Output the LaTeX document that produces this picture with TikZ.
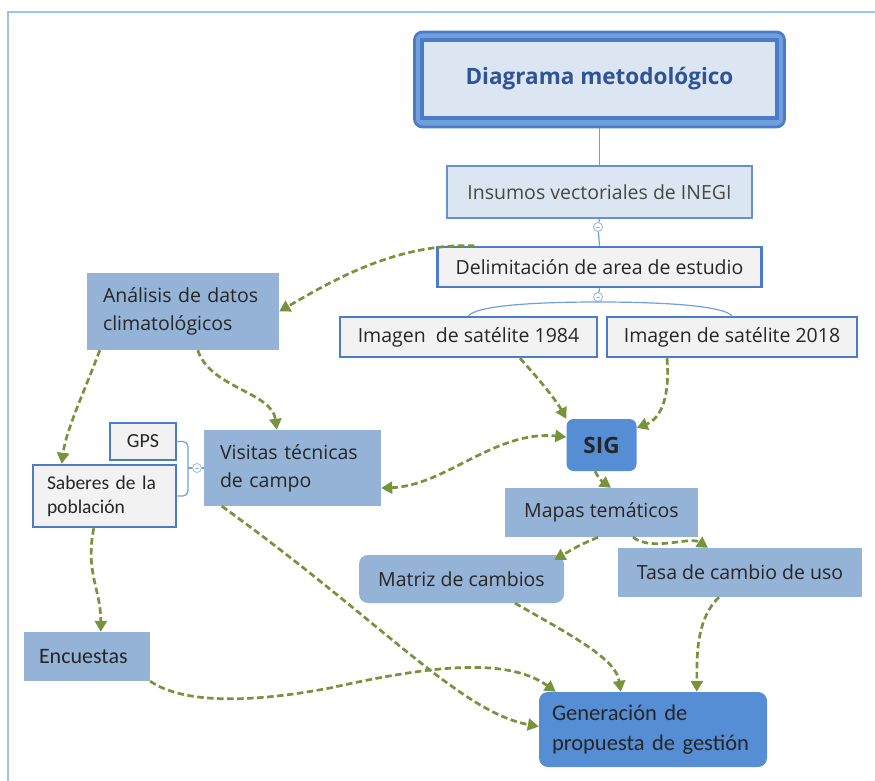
\documentclass[tikz,border=0pt]{standalone}
\usepackage{fontspec}
\setmainfont{Open Sans}
\newfontfamily\calib{Carlito}
\usetikzlibrary{arrows.meta}
\definecolor{lb}{HTML}{95B3D7}
\definecolor{db}{HTML}{558ED5}
\definecolor{gr}{HTML}{F2F2F2}
\definecolor{bd}{HTML}{4A7CC9}
\definecolor{pale}{HTML}{DCE6F2}
\definecolor{grn}{HTML}{77933C}
\definecolor{thin}{HTML}{6FA0DC}
\definecolor{framec}{HTML}{9DC3E6}
\definecolor{txt}{HTML}{262626}
\definecolor{ttl}{HTML}{2F5496}
\tikzset{
  base/.style={inner sep=0pt, font=\fontsize{19.5}{28}\selectfont, text=txt},
  sz/.style 2 args={minimum width=#1pt, minimum height=#2pt},
  lft/.style 2 args={text width=#1pt, inner xsep=#2pt, align=left},
  lbox/.style={base, fill=lb},
  gbox/.style={base, fill=gr, draw=bd, line width=2.5pt},
  dbox/.style={base, fill=db, rounded corners=7pt},
  mbox/.style={base, fill=lb, rounded corners=9pt},
  gline/.style={draw=grn, line width=2.7pt, dash pattern=on 6.5pt off 3.5pt},
  garrow/.style={gline, -{Triangle[length=11pt,width=12pt]}},
  thinline/.style={draw=thin, line width=1.2pt},
  coll/.style={circle, draw=thin!70, line width=0.9pt, fill=white, minimum size=9pt, inner sep=0pt,
     path picture={\draw[thin, line width=0.6pt] ([xshift=-2pt]path picture bounding box.center) -- ([xshift=2pt]path picture bounding box.center);}}
}
\begin{document}
\begin{tikzpicture}[x=1pt,y=-1pt]
\useasboundingbox (0,0) rectangle (875,781);
% frame
\draw[framec, line width=1.5pt] (875,12) -- (8,12) -- (8,781);

% title
\node[base, sz={370}{95}, fill=thin, draw=bd, line width=2.8pt, rounded corners=8pt] (tout) at (599.5,79.5) {};
\node[base, sz={355}{78}, fill=pale, draw=bd, line width=3.5pt, text=ttl,
      font=\fontsize{22.5}{26}\selectfont\bfseries] (title) at (599.5,79) {Diagrama metodológico};

\node[base, sz={305}{52}, fill=pale, draw=bd!85, line width=2pt, text=txt!85] (ins) at (599.5,192) {Insumos vectoriales de INEGI};
\node[gbox, sz={324}{40}] (del) at (599.5,267) {Delimitación de area de estudio};
\node[gbox, sz={257}{40}] (im84) at (468.5,337) {Imagen\ \ de satélite 1984};
\node[gbox, sz={250}{40}] (im18) at (732,337) {Imagen de satélite 2018};

\node[lbox, sz={192}{77}, lft={160}{16}] (ana) at (183,311.5) {Análisis de datos\\climatológicos};
\node[dbox, sz={70}{52}, font=\fontsize{22.5}{26}\selectfont\bfseries] (sig) at (601.5,445) {SIG};
\node[lbox, sz={177}{76}, lft={145}{16}] (vis) at (292.5,468) {Visitas técnicas\\de campo};
\node[gbox, sz={66}{37}, font=\calib\fontsize{20}{24}\selectfont] (gps) at (143,441.5) {GPS};
\node[gbox, sz={143}{62}, lft={115}{14}, font=\calib\fontsize{19.5}{24}\selectfont] (sab) at (104.5,496) {Saberes de la\\población};

\node[lbox, sz={193}{49}] (map) at (601.5,512.5) {Mapas temáticos};
\node[mbox, sz={205}{48}] (mat) at (461.5,579) {Matriz de cambios};
\node[lbox, sz={244}{49}] (tasa) at (740,572.5) {Tasa de cambio de uso};
\node[lbox, sz={126}{49}, lft={96}{15}, font=\calib\fontsize{22}{26}\selectfont] (enc) at (87,656.5) {Encuestas};
\node[dbox, sz={228}{75}, lft={202}{13}, font=\calib\fontsize{22.5}{30}\selectfont, rounded corners=9pt] (gen) at (653,729.5) {Generación de\\propuesta de gestión};

% blue tree connectors
\node[coll] (c1) at (598,227) {};
\node[coll] (c2) at (598,297) {};
\draw[thinline] (tout.south) -- (ins.north);
\draw[thinline] (ins.south) -- (c1);
\draw[thinline] (c1) -- (del.north);
\draw[thinline] (del.south) -- (c2);
\draw[thinline] (im84.north) .. controls (478,305) and (540,302) .. (598,302)
      .. controls (656,302) and (722,305) .. (im18.north);
\node[coll] (c3) at (197,468) {};
\draw[thinline, rounded corners=5pt] (gps.east) -- (188,441.5) -- (188,496) -- (sab.east);
\draw[thinline] (188,468) -- (c3);
\draw[thinline] (c3) -- (vis.west);

% green arrows
\draw[garrow] ([xshift=38pt]del.north west) .. controls (395,243) and (330,282) .. (ana.east);
\draw[garrow] ([xshift=13pt]ana.south west) .. controls (85,390) and (66,430) .. ([xshift=30pt]sab.north west);
\draw[garrow] ([xshift=111pt]ana.south west) .. controls (210,388) and (272,392) .. ([xshift=73pt]vis.north west);
\draw[garrow] ([xshift=51.5pt]im84.south) .. controls (538,378) and (556,400) .. (sig.north west);
\draw[garrow] ([xshift=-65pt]im18.south) .. controls (670,395) and (662,418) .. ([yshift=17pt]sig.east);
\draw[gline, {Triangle[length=11pt,width=12pt]}-{Triangle[length=11pt,width=12pt]}]
      ([yshift=-20pt]vis.east) .. controls (445,486) and (495,430) .. ([yshift=8pt]sig.west);
\draw[garrow] ([xshift=-6.5pt]sig.south) .. controls (600,480) .. ([xshift=9.5pt]map.north);
\draw[garrow] ([xshift=-3.5pt]map.south) .. controls (580,545) .. ([xshift=-10pt,yshift=-5pt]mat.north east);
\draw[garrow] ([xshift=31.5pt]map.south) .. controls (652,552) and (690,536) .. ([xshift=-32pt]tasa.north);
\draw[garrow] ([xshift=62pt]sab.south west) .. controls (85,572) and (101,590) .. ([xshift=77pt]enc.north west);
\draw[garrow] (enc.south east) .. controls (185,705) and (255,702) .. (330,688)
      .. controls (420,668) and (505,655) .. ([xshift=17pt]gen.north west);
\draw[garrow] ([xshift=18pt]vis.south west) .. controls (380,620) and (460,712) .. ([yshift=3pt]gen.west);
\draw[garrow] ([xshift=53.5pt]mat.south) .. controls (580,640) and (616,660) .. ([xshift=82pt]gen.north west);
\draw[garrow] ([xshift=-21pt]tasa.south) .. controls (695,620) and (697,660) .. ([xshift=158pt]gen.north west);
\end{tikzpicture}
\end{document}
